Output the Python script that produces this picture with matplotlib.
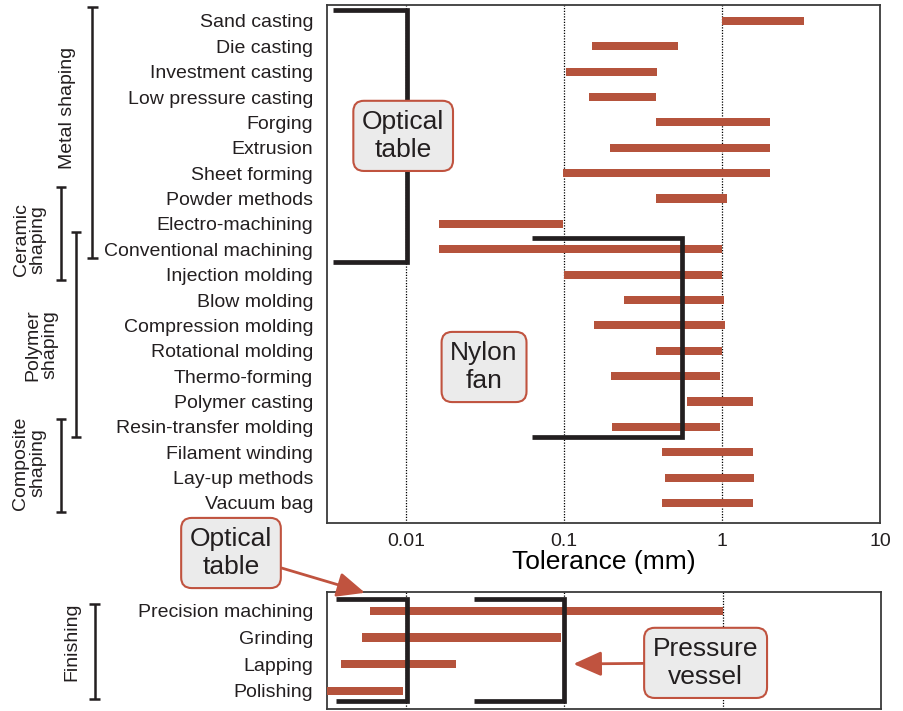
import numpy as np
import matplotlib.pyplot as plt
from matplotlib.transforms import blended_transform_factory

plt.rcParams['font.family'] = ['Liberation Sans', 'DejaVu Sans']
plt.rcParams['text.color'] = '#231f20'

# shaping processes, tolerance range (mm)
processes = ['Sand casting', 'Die casting', 'Investment casting', 'Low pressure casting',
             'Forging', 'Extrusion', 'Sheet forming', 'Powder methods', 'Electro-machining',
             'Conventional machining', 'Injection molding', 'Blow molding',
             'Compression molding', 'Rotational molding', 'Thermo-forming',
             'Polymer casting', 'Resin-transfer molding', 'Filament winding',
             'Lay-up methods', 'Vacuum bag']
tol_low = [1.0, 0.15, 0.103, 0.144, 0.38, 0.195, 0.099, 0.38, 0.0162, 0.0162,
           0.1, 0.24, 0.155, 0.38, 0.198, 0.6, 0.2, 0.42, 0.435, 0.42]
tol_high = [3.3, 0.53, 0.39, 0.38, 2.0, 2.0, 2.0, 1.07, 0.098, 1.0,
            1.0, 1.03, 1.05, 1.0, 0.97, 1.57, 0.97, 1.57, 1.6, 1.57]

# finishing processes
finishing = ['Precision machining', 'Grinding', 'Lapping', 'Polishing']
fin_low = [0.0059, 0.0053, 0.0039, 0.002]
fin_high = [1.0, 0.095, 0.0207, 0.0096]

# process groups: name, first row, last row
groups = [('Metal shaping', -0.55, 9.34),
          ('Ceramic\nshaping', 6.54, 10.2),
          ('Polymer\nshaping', 8.32, 16.4),
          ('Composite\nshaping', 15.69, 19.35)]
group_x = [0.102, 0.0675, 0.084, 0.0675]
group_label_x = [0.075, 0.033, 0.046, 0.032]
group_label_y = [3.43, 8.6, 12.77, 17.42]

# requirement brackets: (tol min, tol max), (row top, row bottom)
optical_main = ((0.00345, 0.0101), (-0.43, 9.5))
nylon_fan = ((0.0626, 0.56), (8.55, 16.4))
optical_fin = ((0.0036, 0.0101), (-0.45, 3.38))
pressure_fin = ((0.027, 0.1), (-0.45, 3.38))

bar_col = '#b5533c'
edge_col = '#c0533f'
ink = '#231f20'
xmin, xmax = 10 ** -2.5, 10

fig = plt.figure(figsize=(9.04, 7.11), dpi=100)
ax = fig.add_axes([0.3617, 0.2644, 0.6117, 0.7286])
ax2 = fig.add_axes([0.3617, 0.0028, 0.6128, 0.1646])

box = dict(boxstyle='round,pad=0.33,rounding_size=0.4', fc='#ebebeb', ec=edge_col, lw=1.5)


def style(a, lims):
    a.set_xscale('log')
    a.set_xlim(xmin, xmax)
    a.set_ylim(*lims)
    for v in [0.01, 0.1, 1]:
        a.axvline(v, color='k', lw=0.9, ls=(0, (1, 1.2)), zorder=1)
    for s in a.spines.values():
        s.set_color('#3a3a3a')
        s.set_linewidth(1.3)
    a.minorticks_off()
    a.tick_params(axis='both', length=0, labelsize=14, colors=ink, pad=10)


def bracket(a, b):
    (x0, x1), (y0, y1) = b
    a.plot([x0, x1, x1, x0], [y0, y0, y1, y1], color=ink, lw=3.4,
           solid_joinstyle='miter', solid_capstyle='butt', zorder=4, clip_on=False)


# main panel
y = np.arange(len(processes))
ax.barh(y, np.array(tol_high) - np.array(tol_low), left=tol_low, height=0.32,
        color=bar_col, zorder=3)
style(ax, (19.79, -0.63))
ax.set_yticks(y)
ax.set_yticklabels(processes)
ax.set_xticks([0.01, 0.1, 1, 10])
ax.set_xticklabels(['0.01', '0.1', '1', '10'])
ax.tick_params(axis='x', pad=7)
ax.set_xlabel('Tolerance (mm)', fontsize=19, labelpad=0)
bracket(ax, optical_main)
bracket(ax, nylon_fan)
ax.text(0.0096, 4.53, 'Optical\ntable', fontsize=19, ha='center', va='center',
        linespacing=1.25, bbox=box, zorder=6)
ax.text(0.0312, 13.64, 'Nylon\nfan', fontsize=19, ha='center', va='center',
        linespacing=1.25, bbox=box, zorder=6)

# finishing panel
yf = np.arange(len(finishing))
ax2.barh(yf, np.array(fin_high) - np.array(fin_low), left=fin_low, height=0.31,
         color=bar_col, zorder=3)
style(ax2, (3.68, -0.71))
ax2.set_yticks(yf)
ax2.set_yticklabels(finishing)
ax2.set_xticks([])
bracket(ax2, optical_fin)
bracket(ax2, pressure_fin)

arrow = dict(arrowstyle='-|>,head_length=0.9,head_width=0.4', color=edge_col, lw=2,
             shrinkA=0, shrinkB=0)
ax2.annotate('Optical\ntable', xy=(0.0055, -0.68), xycoords='data',
             xytext=(231 / 904, 1 - 553 / 711), textcoords='figure fraction',
             fontsize=19, ha='center', va='center', linespacing=1.25, bbox=box,
             arrowprops=arrow, annotation_clip=False, zorder=6)
ax2.annotate('Pressure\nvessel', xy=(0.114, 1.99), xycoords='data',
             xytext=(0.78, 1.95), textcoords='data',
             fontsize=19, ha='center', va='center', linespacing=1.25, bbox=box,
             arrowprops=arrow, zorder=6)

# group brackets at the left
cap = 0.006


def group_bar(a, gx, y0, y1):
    tr = blended_transform_factory(fig.transFigure, a.transData)
    kw = dict(color=ink, lw=1.8, transform=tr, clip_on=False, solid_capstyle='butt')
    a.plot([gx, gx], [y0, y1], **kw)
    a.plot([gx - cap, gx + cap], [y0, y0], **kw)
    a.plot([gx - cap, gx + cap], [y1, y1], **kw)


for (name, y0, y1), gx, lx, ly in zip(groups, group_x, group_label_x, group_label_y):
    group_bar(ax, gx, y0, y1)
    ax.text(lx, ly, name, rotation=90, ha='center', va='center', fontsize=14,
            linespacing=1.0, multialignment='center',
            transform=blended_transform_factory(fig.transFigure, ax.transData))

group_bar(ax2, 0.105, -0.26, 3.31)
ax2.text(0.08, 1.17, 'Finishing', rotation=90, ha='center', va='center', fontsize=14,
         transform=blended_transform_factory(fig.transFigure, ax2.transData))

fig.savefig('out.png', dpi=100)
